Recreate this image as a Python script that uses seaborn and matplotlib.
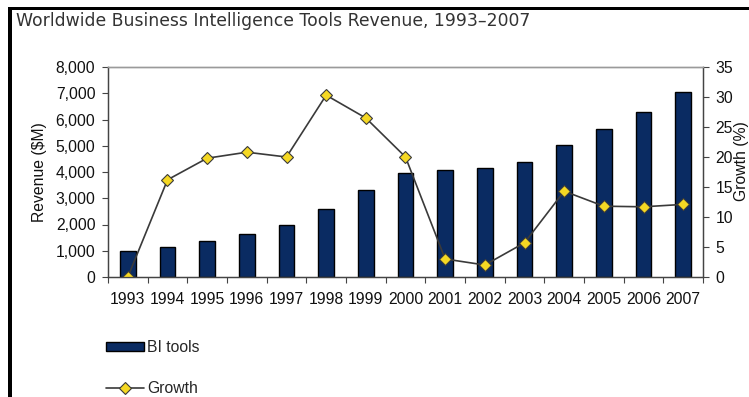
import matplotlib
matplotlib.use("Agg")
import matplotlib.pyplot as plt
from matplotlib.lines import Line2D
from matplotlib.patches import Rectangle
import seaborn as sns
import pandas as pd

years = ["1993", "1994", "1995", "1996", "1997", "1998", "1999", "2000",
         "2001", "2002", "2003", "2004", "2005", "2006", "2007"]
revenue = [1000, 1150, 1370, 1650, 2000, 2600, 3300, 3950,
           4060, 4160, 4400, 5030, 5630, 6290, 7040]
growth = [0.0, 16.2, 19.8, 20.8, 20.0, 30.3, 26.5, 20.0,
          3.0, 2.0, 5.7, 14.3, 11.8, 11.7, 12.1]

title = "Worldwide Business Intelligence Tools Revenue, 1993\u20132007"
bar_label = "BI tools"
line_label = "Growth"

df = pd.DataFrame({"year": years, "revenue": revenue, "growth": growth})

sns.set_theme(style="white")
plt.rcParams["font.family"] = ["Liberation Sans", "DejaVu Sans"]

W, H = 749, 397
fs = 11.3
fig = plt.figure(figsize=(W / 100, H / 100), dpi=100)
fig.patch.set_facecolor("white")

ax = fig.add_axes([108 / W, 1 - 277 / H, (703 - 108) / W, (277 - 67) / H])

navy = "#0A2B62"
sns.barplot(data=df, x="year", y="revenue", color=navy, width=0.4,
            saturation=1, edgecolor="black", linewidth=1.0, ax=ax)

ax2 = ax.twinx()
sns.pointplot(data=df, x="year", y="growth", color="#3A3A3A", markers="D",
              linestyles="-", ax=ax2, markersize=6.5, linewidth=1.2,
              markerfacecolor="#F5D823", markeredgecolor="#3A3A3A",
              markeredgewidth=0.8)

# Axis ranges
ax.set_xlim(-0.5, len(years) - 0.5)
ax2.set_xlim(-0.5, len(years) - 0.5)
ax.set_ylim(0, 8000)
ax2.set_ylim(0, 35)
ax.set_yticks(range(0, 8001, 1000))
ax.set_yticklabels([f"{v:,}" for v in range(0, 8001, 1000)])
ax2.set_yticks(range(0, 36, 5))

# Category labels centred, tick marks between categories
ax.set_xticks(range(len(years)))
ax.set_xticklabels(years)
ax.set_xticks([i - 0.5 for i in range(len(years) + 1)], minor=True)
ax.tick_params(axis="x", which="major", length=0, pad=11, labelsize=fs,
               colors="#111111")
ax.tick_params(axis="x", which="minor", bottom=True, direction="out",
               length=4, width=0.8, color="#444444")
ax.tick_params(axis="y", left=True, direction="out", length=4, width=0.8,
               color="#444444", pad=5, labelsize=fs, labelcolor="#111111")
ax2.tick_params(axis="y", right=True, direction="out", length=4, width=0.8,
                color="#444444", pad=5, labelsize=fs, labelcolor="#111111")

ax.set_xlabel("")
ax.set_ylabel("Revenue ($M)", fontsize=fs, color="#111111")
ax.yaxis.set_label_coords(-(108 - 47) / 595, 0.5)
ax2.set_ylabel("Growth (%)", fontsize=fs, color="#111111", rotation=90)
ax2.yaxis.set_label_coords(1.0 + 31 / 595, 0.55)

for a in (ax, ax2):
    for side in ("left", "bottom", "right"):
        a.spines[side].set_color("#444444")
        a.spines[side].set_linewidth(0.9)
    a.spines["top"].set_color("#9A9A9A")
    a.spines["top"].set_linewidth(1.0)
    a.grid(False)

# Legend below the plot
bar_handle = Rectangle((0, 0), 1, 1, facecolor=navy, edgecolor="black",
                       linewidth=1.0)
line_handle = Line2D([], [], color="#3A3A3A", linewidth=1.2, marker="D",
                     markersize=6, markerfacecolor="#F5D823",
                     markeredgecolor="#3A3A3A", markeredgewidth=0.8)
fig.legend([bar_handle, line_handle], [bar_label, line_label],
           loc="upper left", bbox_to_anchor=(100 / W, 1 - 334 / H),
           frameon=False, fontsize=fs, handlelength=2.4, handleheight=0.5,
           handletextpad=0.2, labelspacing=1.62, borderaxespad=0)

# Title and frame
fig.text(16 / W, 1 - 26 / H, title, fontsize=12.4, color="#333333",
         family="DejaVu Sans", va="baseline", ha="left")
fig.add_artist(Rectangle((8 / W, 1 - 10 / H), 1 - 8 / W, 3 / H,
                         transform=fig.transFigure, facecolor="black",
                         edgecolor="none"))
fig.add_artist(Rectangle((8 / W, 0), 4 / W, 1 - 7 / H,
                         transform=fig.transFigure, facecolor="black",
                         edgecolor="none"))

fig.savefig("out.png", dpi=100)
